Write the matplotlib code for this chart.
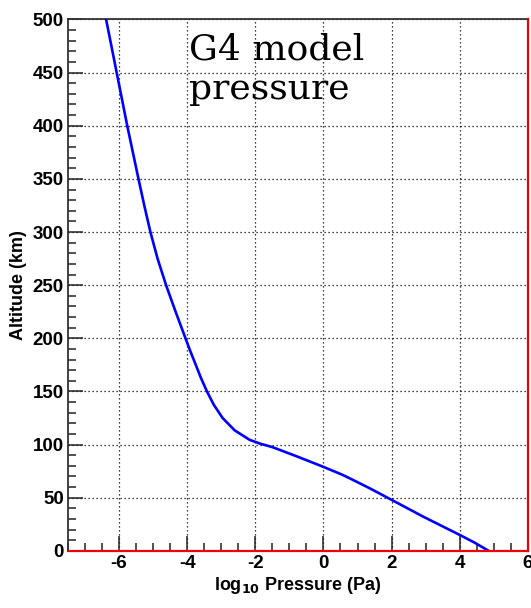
import matplotlib
matplotlib.use("Agg")
import matplotlib.pyplot as plt
from matplotlib.ticker import MultipleLocator

plt.rcParams['axes.unicode_minus'] = False

# Data
log_pressure = [4.85, 4.45, 4.0, 2.94, 2.0, 1.38, 0.85, 0.56, 0.0, -0.79, -1.49, -1.87,
                -2.17, -2.61, -2.96, -3.22, -3.42, -3.60, -3.76, -3.91, -4.05, -4.34,
                -4.62, -4.87, -5.08, -5.26, -5.43, -5.76, -6.07, -6.38]
altitude_km = [0, 7.5, 15, 32, 48, 58.5, 67, 71.5, 79, 89, 97.5, 101,
               104.5, 113.5, 125, 137.5, 150, 163, 176, 188, 200, 225,
               250, 275, 300, 325, 350, 400, 450, 500]

x_ticks = [-6, -4, -2, 0, 2, 4, 6]
y_ticks = [0, 50, 100, 150, 200, 250, 300, 350, 400, 450, 500]

fig = plt.figure(figsize=(5.31, 6.08), dpi=100)
ax = fig.add_axes([0.128, 0.094, 0.866, 0.874])

ax.set_xlim(-7.5, 6)
ax.set_ylim(0, 500)

ax.plot(log_pressure, altitude_km, color="#0000ff", lw=1.9, zorder=3,
        solid_joinstyle="round")

# red frame lines (bottom & right)
ax.plot([-7.5, 6], [0, 0], color="#ee0000", lw=1.6, clip_on=False, zorder=4)
ax.plot([6, 6], [0, 500], color="#ee0000", lw=1.6, clip_on=False, zorder=4)

ax.set_xticks(x_ticks)
ax.set_yticks(y_ticks)
ax.xaxis.set_minor_locator(MultipleLocator(0.5))
ax.yaxis.set_minor_locator(MultipleLocator(10))

ax.tick_params(which="both", direction="in", top=False, right=False, width=1.1, color="#222222")
ax.tick_params(which="major", length=10.5)
ax.tick_params(which="minor", length=5.5)
ax.tick_params(axis="both", which="major", pad=3)

for lab in ax.get_xticklabels() + ax.get_yticklabels():
    lab.set_fontfamily("Liberation Sans")
    lab.set_fontweight("bold")
    lab.set_fontsize(13.5)

ax.grid(True, which="major", color="black", linestyle=(0, (1, 2.2)), lw=0.9)

for s in ax.spines.values():
    s.set_linewidth(1.3)
    s.set_color("#333333")

ax.set_xlabel(r"log$_{\mathbf{10}}$ Pressure (Pa)", fontfamily="Liberation Sans",
              fontweight="bold", fontsize=13, labelpad=2)
ax.set_ylabel("Altitude (km)", fontfamily="Liberation Sans", fontweight="bold",
              fontsize=13, labelpad=4)

ax.text(0.264, 0.975, "G4 model\npressure", transform=ax.transAxes, fontfamily="DejaVu Serif",
        fontsize=26, va="top", ha="left", linespacing=1.2)

fig.savefig("out.png", dpi=100)
